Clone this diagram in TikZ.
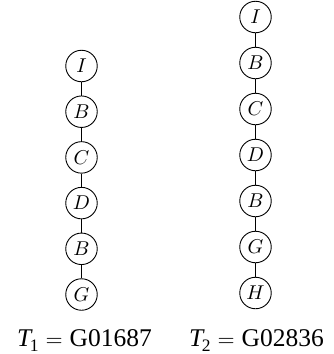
\documentclass[tikz,border=0pt]{standalone}
\usepackage{graphicx}
\usepackage{fontspec}
\newfontfamily\tms{Liberation Serif}
\tikzset{
  vert/.style={draw, circle, line width=0.9pt, minimum size=31.5pt, inner sep=0pt},
  edge/.style={line width=0.9pt},
  lbl/.style={anchor=base west, inner sep=0pt, font=\fontsize{25.5}{30}\selectfont}
}
\newcommand{\vl}[1]{\scalebox{2.0}{$#1$}}
\newcommand{\bigeq}{\scalebox{2.2}{\normalsize$=$}}
\newcommand{\tlab}[2]{{\tms\itshape T}\kern-1.5pt\raisebox{-5pt}{\fontsize{17.5}{18}\selectfont\tms #1}\hspace{7pt}\bigeq\hspace{7pt}{\tms #2}}
\begin{document}
\begin{tikzpicture}[x=1pt,y=-1pt]
\useasboundingbox (0,0) rectangle (334,354);
% left tree
\node[vert] (a1) at (81.5,66)    {\vl{I}};
\node[vert] (a2) at (81.5,111.7) {\vl{B}};
\node[vert] (a3) at (81.5,157.4) {\vl{C}};
\node[vert] (a4) at (81.5,203.1) {\vl{D}};
\node[vert] (a5) at (81.5,248.8) {\vl{B}};
\node[vert] (a6) at (81.5,294.5) {\vl{G}};
\draw[edge] (a1) -- (a2) (a2) -- (a3) (a3) -- (a4) (a4) -- (a5) (a5) -- (a6);
% right tree
\node[vert] (b1) at (255.5,17)  {\vl{I}};
\node[vert] (b2) at (255.5,63)  {\vl{B}};
\node[vert] (b3) at (255.5,109) {\vl{C}};
\node[vert] (b4) at (255.5,155) {\vl{D}};
\node[vert] (b5) at (255.5,201) {\vl{B}};
\node[vert] (b6) at (255.5,247) {\vl{G}};
\node[vert] (b7) at (255.5,293) {\vl{H}};
\draw[edge] (b1) -- (b2) (b2) -- (b3) (b3) -- (b4) (b4) -- (b5) (b5) -- (b6) (b6) -- (b7);
% labels
\node[lbl] (t1) at (17,346) {\tlab{1}{G01687}};
\node[lbl] (t2) at (189,346) {\tlab{2}{G02836}};
\end{tikzpicture}
\end{document}
